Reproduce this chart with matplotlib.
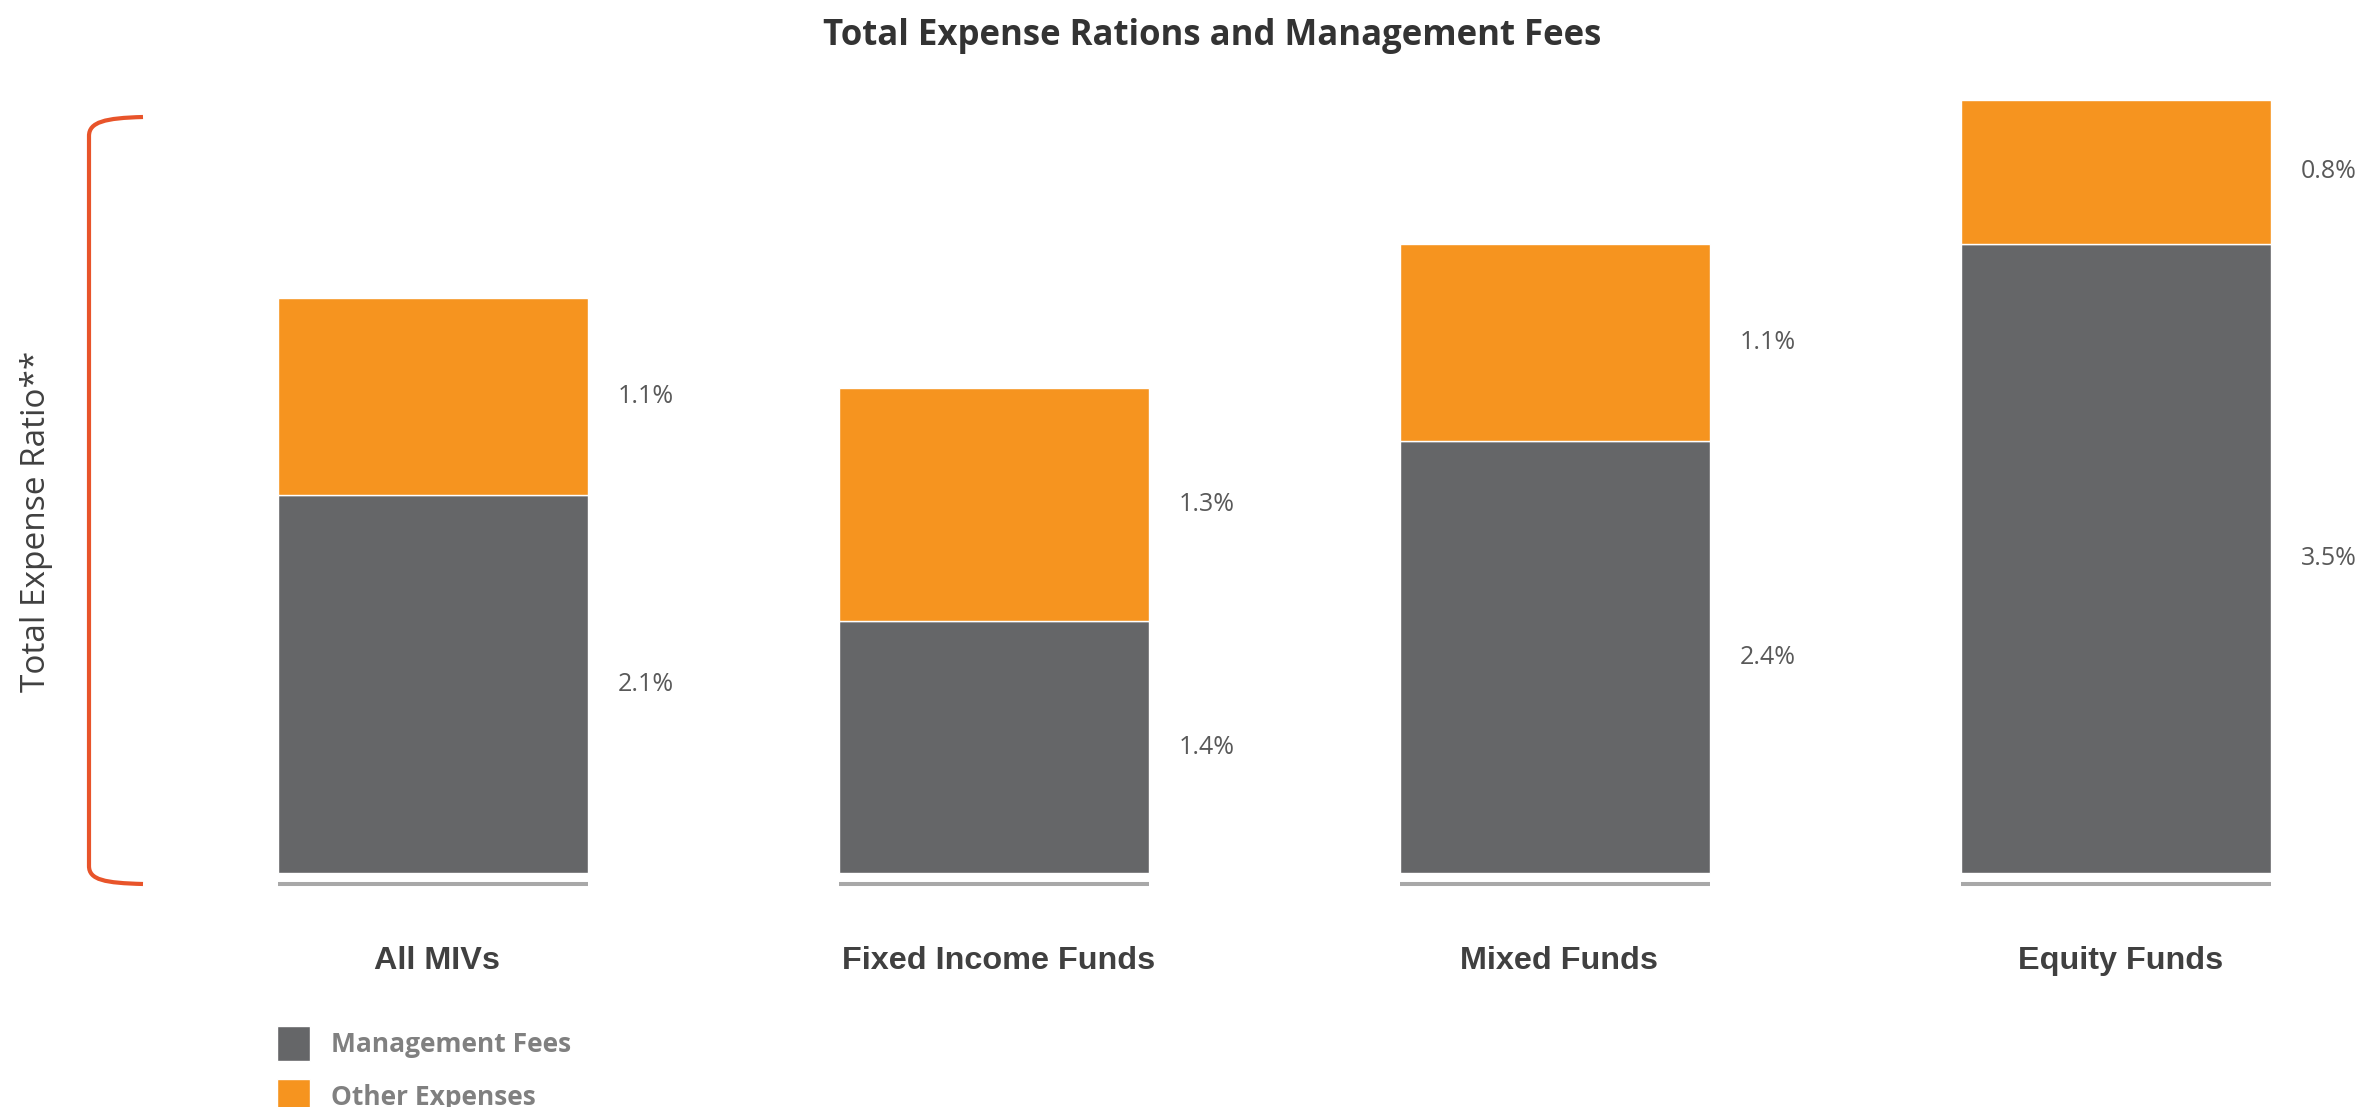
import matplotlib
matplotlib.use('Agg')
from matplotlib import pyplot as plt
from matplotlib.path import Path
from matplotlib.patches import PathPatch
import numpy as np

# data
categories = ['All MIVs', 'Fixed Income Funds', 'Mixed Funds', 'Equity Funds']
management_fees = [2.1, 1.4, 2.4, 3.5]
other_expenses = [1.1, 1.3, 1.1, 0.8]
series_names = ['Management Fees', 'Other Expenses']

GRAY = '#656668'
ORANGE = '#F6941F'
BASE = '#A8A8A8'
RED = '#E8542A'

W, H = 2377, 1107
fig = plt.figure(figsize=(W / 100, H / 100), dpi=100)

# main axes: full width, y from 100px (top) to 900px (bottom)
px_unit = 179.8
ax = fig.add_axes([0, (H - 900) / H, 1, 800 / H])
ax.set_xlim(-433 / 561, (W - 433) / 561)
ax.set_ylim(-27 / px_unit, 773 / px_unit)
ax.axis('off')

x = np.arange(len(categories))
width = 0.554
b1 = ax.bar(x, management_fees, width, color=GRAY, edgecolor='white',
            linewidth=1.0, label=series_names[0])
b2 = ax.bar(x, other_expenses, width, bottom=management_fees, color=ORANGE,
            edgecolor='white', linewidth=1.0, label=series_names[1])

# grey base line under every bar
ax.hlines([-11 / px_unit] * len(x), x - width / 2, x + width / 2,
          colors=BASE, linewidth=2.9, clip_on=False)

for i in x:
    m, o = management_fees[i], other_expenses[i]
    ax.text(i + width / 2 + 0.052, m / 2, '{:.1f}%'.format(m), ha='left',
            va='center', fontsize=18, color='#595959', family='Open Sans')
    ax.text(i + width / 2 + 0.052, m + o / 2, '{:.1f}%'.format(o), ha='left',
            va='center', fontsize=18, color='#595959', family='Open Sans')
    ax.text(i + 0.008, -88 / px_unit, categories[i], ha='center', va='center',
            fontsize=23.3, fontweight='bold', color='#404040',
            family='Liberation Sans', clip_on=False)

fig.text(1212 / W, 1 - 36 / H, 'Total Expense Rations and Management Fees',
         ha='center', va='center', fontsize=25, fontweight='bold',
         color='#333333', family='Open Sans')

fig.text(37 / W, 1 - 521 / H, 'Total Expense Ratio**', rotation=90,
         ha='center', va='center', fontsize=24, color='#404040',
         family='Open Sans')

# orange bracket on the left, drawn in pixel coords on an overlay
ov = fig.add_axes([0, 0, 1, 1], zorder=-1)
ov.set_xlim(0, W)
ov.set_ylim(H, 0)
ov.axis('off')
verts = [(143, 117), (105, 118), (89, 122), (89, 136),
         (89, 866),
         (89, 880), (105, 883), (143, 884)]
codes = [Path.MOVETO, Path.CURVE4, Path.CURVE4, Path.CURVE4,
         Path.LINETO,
         Path.CURVE4, Path.CURVE4, Path.CURVE4]
ov.add_patch(PathPatch(Path(verts, codes), facecolor='none', edgecolor=RED,
                       linewidth=3))

leg = fig.legend(handles=[b1, b2], labels=series_names, loc='upper left',
                 bbox_to_anchor=(277 / W, 1 - 1026 / H), frameon=False,
                 borderpad=0, borderaxespad=0, handlelength=1.25,
                 handleheight=1.66, handletextpad=0.8, labelspacing=0.67,
                 prop={'family': 'Open Sans', 'weight': 'bold', 'size': 19})
for t in leg.get_texts():
    t.set_color('#808080')

fig.savefig('out.png', dpi=100)
